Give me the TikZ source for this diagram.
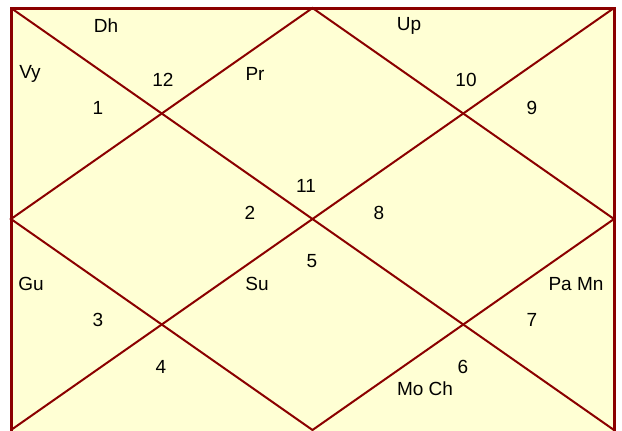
\documentclass[tikz,border=0pt]{standalone}
\usepackage{fontspec}
\setmainfont{Liberation Sans}
\definecolor{chartred}{HTML}{8B0000}
\definecolor{chartbg}{HTML}{FFFFD4}
\tikzset{
  chframe/.style={draw=chartred, line width=1.5pt, fill=chartbg},
  chline/.style={draw=chartred, line width=1pt},
  chtext/.style={font=\fontsize{9.5}{11}\selectfont, inner sep=0pt, text=black},
}

\begin{document}
\begin{tikzpicture}[x=0.5pt, y=-0.5pt]
  \useasboundingbox (0,0) rectangle (622,430);
  % corners and midpoints of the chart
  \coordinate (tl) at (11,8);
  \coordinate (tr) at (614,8);
  \coordinate (bl) at (11,430);
  \coordinate (br) at (614,430);
  \coordinate (tm) at (312.5,8);
  \coordinate (bm) at (312.5,430);
  \coordinate (lm) at (11,219);
  \coordinate (rm) at (614,219);

  \path[chframe] (tl) rectangle ([yshift=-2.5pt]br);
  \draw[chline] (tl) -- (br);
  \draw[chline] (tr) -- (bl);
  \draw[chline] (tm) -- (rm) -- (bm) -- (lm) -- cycle;

  % house numbers
  \node[chtext] (h1) at (98,108) {1};
  \node[chtext] (h2) at (250,213) {2};
  \node[chtext] (h3) at (98,320) {3};
  \node[chtext] (h4) at (161,367) {4};
  \node[chtext] (h5) at (312,261) {5};
  \node[chtext] (h6) at (463,367) {6};
  \node[chtext] (h7) at (532,320) {7};
  \node[chtext] (h8) at (379,213) {8};
  \node[chtext] (h9) at (532,108) {9};
  \node[chtext] (h10) at (466,80) {10};
  \node[chtext] (h11) at (306,186) {11};
  \node[chtext] (h12) at (163,80) {12};

  % planets
  \node[chtext] (dh) at (106,26) {Dh};
  \node[chtext] (up) at (409,26) {Up};
  \node[chtext] (vy) at (30,74) {Vy};
  \node[chtext] (pr) at (255,74) {Pr};
  \node[chtext] (gu) at (31,284) {Gu};
  \node[chtext] (su) at (257,284) {Su};
  \node[chtext] (pamn) at (576,284) {Pa Mn};
  \node[chtext] (moch) at (425,389) {Mo Ch};
\end{tikzpicture}
\end{document}
